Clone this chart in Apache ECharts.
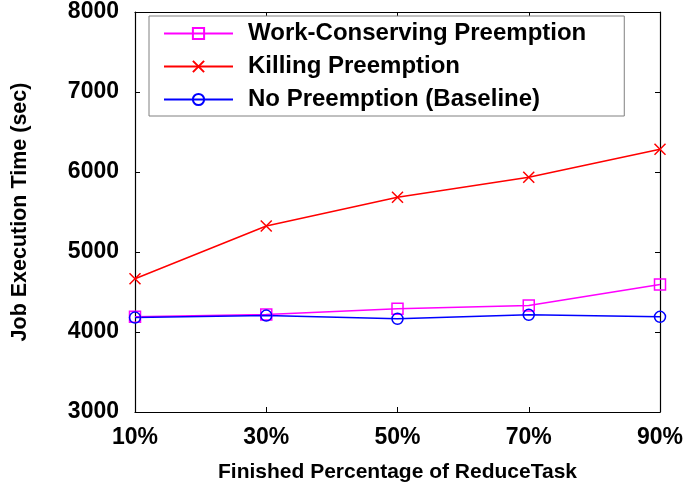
<!DOCTYPE html>
<html>
<head>
<meta charset="utf-8">
<script src="https://cdn.jsdelivr.net/npm/echarts@6/dist/echarts.min.js"></script>
<style>html,body{margin:0;padding:0;background:#fff}#c{width:687px;height:488px}</style>
</head>
<body>
<div id="c"></div>
<script>
const categories = ['10%', '30%', '50%', '70%', '90%'];
const workConserving = [4190, 4220, 4290, 4330, 4595];
const killing = [4665, 5325, 5685, 5935, 6285];
const baseline = [4180, 4205, 4165, 4215, 4190];
const yTicks = [3000, 4000, 5000, 6000, 7000, 8000];
const seriesNames = ['Work-Conserving Preemption', 'Killing Preemption', 'No Preemption (Baseline)'];

const FONT = '"Liberation Sans", Arial, Helvetica, sans-serif';
const crossPath = 'path://M0,0L10,10M10,0L0,10';
const chart = echarts.init(document.getElementById('c'));

function mkSeries(name, data, color, symbol) {
  return {
    name: name, type: 'line', data: data,
    symbol: symbol, symbolSize: 11, showSymbol: true,
    lineStyle: { color: color, width: 1.5 },
    itemStyle: { color: 'none', borderColor: color, borderWidth: 1.5 },
    animation: false
  };
}

chart.setOption({
  backgroundColor: '#fff',
  animation: false,
  grid: { left: 135, right: 27, top: 12, bottom: 76, show: false, containLabel: false, outerBoundsMode: 'none' },
  legend: {
    orient: 'vertical', left: 149, top: 16,
    padding: [4, 38, 3, 14],
    itemWidth: 69, itemHeight: 14, itemGap: 6,
    borderColor: '#808080', borderWidth: 1, backgroundColor: '#fff',
    textStyle: { fontFamily: FONT, fontWeight: 'bold', fontSize: 24, color: '#000', lineHeight: 27, padding: [0, 0, 0, 10] },
    data: seriesNames
  },
  xAxis: [{
    type: 'category', data: categories, boundaryGap: false,
    name: 'Finished Percentage of ReduceTask', nameLocation: 'middle', nameGap: 50,
    nameTextStyle: { fontFamily: FONT, fontWeight: 'bold', fontSize: 21, color: '#000' },
    axisLine: { lineStyle: { color: '#000', width: 1.2 } },
    axisTick: { inside: true, length: 5, lineStyle: { color: '#000' } },
    axisLabel: { fontFamily: FONT, fontWeight: 'bold', fontSize: 23, color: '#000', margin: 14 },
    splitLine: { show: false }
  }, {
    type: 'category', data: categories, boundaryGap: false, position: 'top',
    axisLine: { lineStyle: { color: '#000', width: 1.2 } },
    axisTick: { inside: true, length: 5, lineStyle: { color: '#000' } },
    axisLabel: { show: false }, splitLine: { show: false }
  }],
  yAxis: [{
    type: 'value', min: yTicks[0], max: yTicks[yTicks.length - 1], interval: 1000,
    name: 'Job Execution Time (sec)', nameLocation: 'middle', nameGap: 104,
    nameTextStyle: { fontFamily: FONT, fontWeight: 'bold', fontSize: 21.5, color: '#000' },
    axisLine: { show: true, lineStyle: { color: '#000', width: 1.2 } },
    axisTick: { show: true, inside: true, length: 5, lineStyle: { color: '#000' } },
    axisLabel: { fontFamily: FONT, fontWeight: 'bold', fontSize: 23, color: '#000', margin: 16, formatter: v => String(v) },
    splitLine: { show: false }
  }, {
    type: 'value', min: yTicks[0], max: yTicks[yTicks.length - 1], interval: 1000, position: 'right',
    axisLine: { show: true, lineStyle: { color: '#000', width: 1.2 } },
    axisTick: { show: true, inside: true, length: 5, lineStyle: { color: '#000' } },
    axisLabel: { show: false }, splitLine: { show: false }
  }],
  series: [
    mkSeries(seriesNames[0], workConserving, '#ff00ff', 'rect'),
    mkSeries(seriesNames[1], killing, '#ff0000', crossPath),
    mkSeries(seriesNames[2], baseline, '#0000ff', 'circle')
  ]
});
</script>
</body>
</html>
